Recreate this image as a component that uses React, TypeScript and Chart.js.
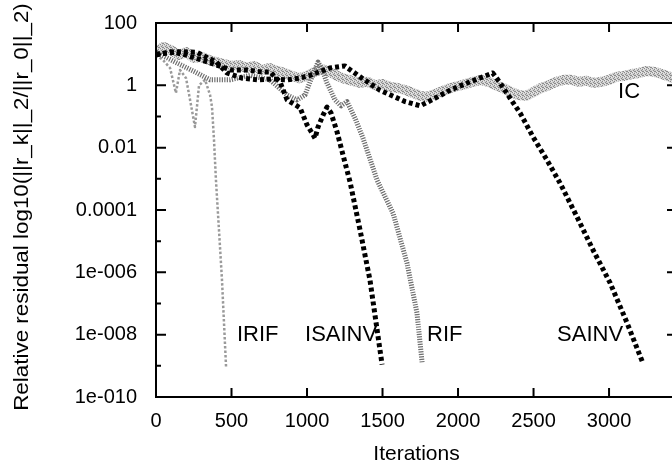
import React, { useEffect, useRef } from "react";
import { Chart, registerables } from "chart.js";

Chart.register(...registerables);

// ---------- data ----------
const xTickValues = [0, 500, 1000, 1500, 2000, 2500, 3000];
const yTickValues = [1e-10, 1e-9, 1e-8, 1e-7, 1e-6, 1e-5, 1e-4, 1e-3, 1e-2, 1e-1, 1, 10, 100];
const yTickLabels = ["1e-010", "", "1e-008", "", "1e-006", "", "0.0001", "", "0.01", "", "1", "", "100"];

const icIter = [0, 50, 100, 150, 200, 250, 300, 350, 400, 450, 500, 550, 600, 650, 700, 750, 800, 850, 900, 950,
  1000, 1050, 1100, 1150, 1200, 1250, 1300, 1350, 1400, 1450, 1500, 1550, 1600, 1650, 1700, 1750, 1800, 1850, 1900, 1950,
  2000, 2050, 2100, 2150, 2200, 2250, 2300, 2350, 2400, 2450, 2500, 2550, 2600, 2650, 2700, 2750, 2800, 2850, 2900, 2950,
  3000, 3050, 3100, 3150, 3200, 3250, 3300, 3350, 3400, 3450];
const icValues = [11.7, 17, 13.5, 9.4, 11.7, 7.6, 8.1, 6.5, 5.6, 4.8, 4.2, 4.5, 3.6, 4.2, 3.1, 3.6, 2.9, 2.5, 2.0, 1.7,
  2.0, 2.7, 3.3, 2.7, 2.0, 1.6, 1.4, 1.2, 1.3, 1.0, 1.1, 0.89, 0.82, 0.71, 0.57, 0.46, 0.43, 0.53, 0.66, 0.82,
  0.95, 1.1, 1.3, 1.5, 1.3, 1.0, 0.82, 0.61, 0.49, 0.46, 0.61, 0.82, 1.0, 1.3, 1.5, 1.5, 1.3, 1.4, 1.2, 1.3,
  1.5, 1.9, 2.0, 2.3, 2.5, 2.9, 2.7, 2.3, 1.9, 1.5];

const sainvIter = [0, 150, 270, 400, 470, 570, 670, 770, 870, 950, 1020, 1150, 1250, 1350, 1480, 1650, 1750, 1850, 1950,
  2080, 2180, 2230, 2278, 2344, 2411, 2497, 2589, 2675, 2788, 2894, 3007, 3119, 3225];
const sainvValues = [10, 12, 11.5, 5.6, 2.5, 1.7, 1.5, 1.6, 1.5, 1.7, 2.1, 3.6, 4.2, 1.9, 0.71, 0.3, 0.22, 0.39, 0.71,
  1.3, 2.0, 2.5, 1.2, 0.39, 0.13, 0.022, 0.004, 7.4e-4, 6.0e-5, 5.2e-6, 4.6e-7, 2.4e-8, 1.2e-9];

const isainvIter = [0, 100, 200, 300, 400, 500, 600, 700, 755, 821, 868, 954, 1000, 1040, 1053, 1073, 1106, 1132, 1159,
  1199, 1238, 1285, 1351, 1417, 1497];
const isainvValues = [9.4, 12, 9.4, 6.5, 4.5, 3.1, 3.1, 2.7, 2.7, 1.3, 0.34, 0.19, 0.054, 0.026, 0.02, 0.046, 0.11, 0.2, 0.13,
  0.032, 0.0059, 7.9e-4, 2.3e-5, 5.6e-7, 1.1e-9];

const rifIter = [0, 126, 258, 358, 490, 623, 755, 868, 934, 987, 1020, 1073, 1106, 1132, 1185, 1225, 1265, 1318, 1371,
  1464, 1570, 1662, 1728, 1762];
const rifValues = [11.7, 5.6, 2.7, 1.5, 1.5, 2.1, 1.5, 0.49, 0.34, 0.49, 1.3, 5.6, 2.7, 1.2, 0.34, 0.22, 0.3, 0.089, 0.02,
  9.1e-4, 7.9e-5, 2.0e-6, 5.0e-8, 1.3e-9];

const irifIter = [0, 46, 93, 132, 159, 199, 238, 258, 285, 325, 358, 371, 384, 397, 417, 437, 464];
const irifValues = [9.4, 6.5, 3.6, 0.57, 3.1, 1.7, 0.16, 0.046, 1.0, 1.5, 0.49, 0.2, 0.018, 9.1e-4, 2.3e-5, 5.6e-7, 9.1e-10];

const annotationTexts = ["IRIF", "ISAINV", "RIF", "SAINV", "IC"];
const annotationIters = [536, 987, 1795, 2656, 3060];
const annotationValues = [1e-8, 1e-8, 1e-8, 1e-8, 0.61];

const xTitle = "Iterations";
const yTitle = "Relative residual log10(||r_k||_2/||r_0||_2)";

const FONT = "'Liberation Sans', Arial, Helvetica, sans-serif";

function pts(xs: number[], ys: number[]) {
  return xs.map((x, i) => ({ x, y: ys[i] }));
}

function makePattern(): CanvasPattern | string {
  const c = document.createElement("canvas");
  c.width = 4;
  c.height = 4;
  const g = c.getContext("2d");
  if (!g) return "#aaaaaa";
  g.fillStyle = "#cfcfcf";
  g.fillRect(0, 0, 4, 4);
  g.fillStyle = "#8c8c8c";
  const dark = [[0, 0], [2, 1], [1, 2], [3, 3], [2, 3]];
  dark.forEach(([x, y]) => g.fillRect(x, y, 1, 1));
  g.fillStyle = "#e8e8e8";
  [[1, 0], [3, 1], [0, 3]].forEach(([x, y]) => g.fillRect(x, y, 1, 1));
  const p = g.createPattern(c, "repeat");
  return p || "#aaaaaa";
}

const framePlugin = {
  id: "frame",
  afterDraw(chart: any) {
    const { ctx, chartArea } = chart;
    const { left, right, top, bottom } = chartArea;
    const xs = chart.scales.x;
    const ys = chart.scales.y;
    ctx.save();
    ctx.strokeStyle = "#000";
    ctx.lineWidth = 2;
    ctx.beginPath();
    ctx.rect(left, top, right - left, bottom - top);
    ctx.stroke();
    ys.ticks.forEach((t: any, i: number) => {
      const py = ys.getPixelForValue(t.value);
      const len = yTickLabels[i] !== "" ? 10 : 5;
      ctx.beginPath();
      ctx.moveTo(left, py);
      ctx.lineTo(left + len, py);
      ctx.moveTo(right, py);
      ctx.lineTo(right - len, py);
      ctx.stroke();
    });
    xs.ticks.forEach((t: any) => {
      const px = xs.getPixelForValue(t.value);
      ctx.beginPath();
      ctx.moveTo(px, bottom);
      ctx.lineTo(px, bottom - 9);
      ctx.moveTo(px, top);
      ctx.lineTo(px, top + 9);
      ctx.stroke();
    });
    ctx.fillStyle = "#000";
    ctx.font = `22px ${FONT}`;
    ctx.textAlign = "left";
    ctx.textBaseline = "middle";
    annotationTexts.forEach((txt, i) => {
      ctx.fillText(txt, xs.getPixelForValue(annotationIters[i]), ys.getPixelForValue(annotationValues[i]));
    });
    ctx.save();
    ctx.translate(22.5, (top + bottom) / 2 - 3);
    ctx.rotate(-Math.PI / 2);
    ctx.scale(1.12, 1);
    ctx.font = `20px ${FONT}`;
    ctx.textAlign = "center";
    ctx.textBaseline = "middle";
    ctx.fillText(yTitle, 0, 0);
    ctx.restore();
    ctx.restore();
  },
};

export default function App() {
  const ref = useRef<HTMLCanvasElement | null>(null);
  useEffect(() => {
    if (!ref.current) return;
    const icPattern = makePattern();
    const chart = new Chart(ref.current, {
      type: "line",
      data: {
        datasets: [
          {
            label: "IRIF",
            data: pts(irifIter, irifValues),
            borderColor: "#9a9a9a",
            borderWidth: 2.5,
            borderDash: [2.5, 2],
            pointRadius: 0,
            order: 2,
          },
          {
            label: "RIF",
            data: pts(rifIter, rifValues),
            borderColor: "#6e6e6e",
            borderWidth: 5,
            borderDash: [1.2, 1.3],
            pointRadius: 0,
            order: 1,
          },
          {
            label: "ISAINV",
            data: pts(isainvIter, isainvValues),
            borderColor: "#000",
            borderWidth: 5,
            borderDash: [4, 3],
            pointRadius: 0,
            order: 0,
          },
          {
            label: "SAINV",
            data: pts(sainvIter, sainvValues),
            borderColor: "#000",
            borderWidth: 5,
            borderDash: [4, 3],
            pointRadius: 0,
            order: 0,
          },
          {
            label: "IC",
            data: pts(icIter, icValues),
            borderColor: icPattern as any,
            borderWidth: 10,
            pointRadius: 0,
            order: 5,
          },
        ],
      },
      options: {
        animation: false,
        responsive: false,
        devicePixelRatio: 1,
        layout: { padding: { top: 23, right: 13, left: 0, bottom: 0 } },
        plugins: { legend: { display: false }, tooltip: { enabled: false } },
        elements: { line: { tension: 0, borderCapStyle: "butt", borderJoinStyle: "round" } },
        scales: {
          x: {
            type: "linear",
            position: "bottom",
            min: 0,
            max: 3450,
            afterBuildTicks: (s: any) => {
              s.ticks = xTickValues.map((v) => ({ value: v }));
            },
            afterFit: (s: any) => {
              s.height = 71;
              s.paddingLeft = 0;
              s.paddingRight = 0;
            },
            ticks: {
              color: "#000",
              font: { family: FONT, size: 20 },
              padding: 12,
              maxRotation: 0,
              autoSkip: false,
              callback: (v: any) => String(v),
            },
            grid: { display: false, drawTicks: false },
            border: { display: false },
            title: {
              display: true,
              text: xTitle,
              color: "#000",
              font: { family: FONT, size: 21 },
              padding: { top: 0, bottom: 1 },
            },
          },
          y: {
            type: "logarithmic",
            position: "left",
            min: 1e-10,
            max: 100,
            afterBuildTicks: (s: any) => {
              s.ticks = yTickValues.map((v) => ({ value: v }));
            },
            afterFit: (s: any) => {
              s.width = 156;
              s.paddingTop = 0;
              s.paddingBottom = 0;
            },
            ticks: {
              color: "#000",
              font: { family: FONT, size: 20 },
              padding: 19,
              autoSkip: false,
              callback: (_v: any, i: number) => yTickLabels[i] ?? "",
            },
            grid: { display: false, drawTicks: false },
            border: { display: false },
          },
        },
      },
      plugins: [framePlugin],
    });
    return () => chart.destroy();
  }, []);
  return (
    <div
      style={{
        position: "fixed",
        left: 0,
        top: 0,
        width: 672,
        height: 468,
        overflow: "hidden",
        background: "#fff",
      }}
    >
      <canvas ref={ref} width={690} height={468} style={{ width: 690, height: 468, display: "block" }} />
    </div>
  );
}
